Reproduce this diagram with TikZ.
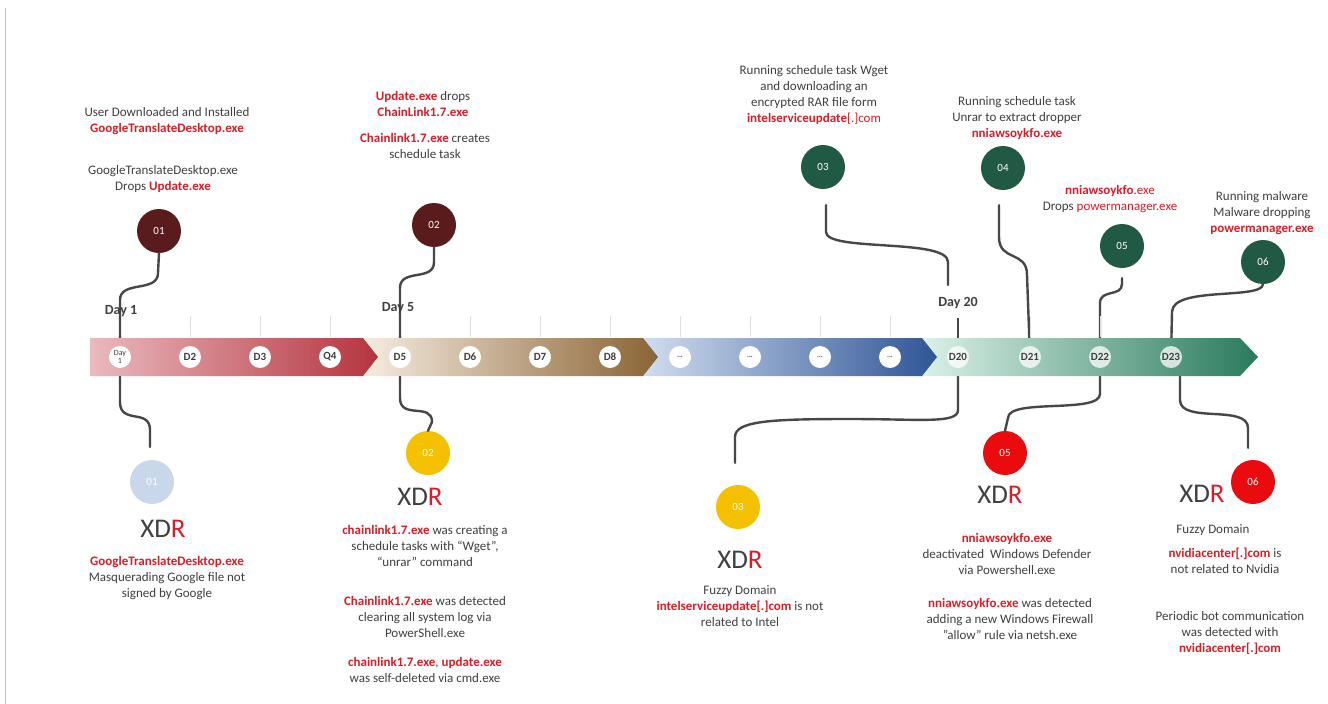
\documentclass[tikz,border=0pt]{standalone}
\usepackage{fontspec}
\setmainfont{Carlito}
\usetikzlibrary{calc}
\definecolor{tgray}{HTML}{404040}
\definecolor{xred}{HTML}{DD1C26}
\definecolor{maroon}{HTML}{5A1B1D}
\definecolor{dgreen}{HTML}{215A44}
\definecolor{lblue}{HTML}{C9D7EA}
\definecolor{yel}{HTML}{F5C000}
\definecolor{bred}{HTML}{EA0B0E}
\definecolor{cgray}{HTML}{474747}
\definecolor{sa}{HTML}{E9BABE}\definecolor{sb}{HTML}{B5343F}
\definecolor{sc}{HTML}{F6ECE1}\definecolor{sd}{HTML}{8A6433}
\definecolor{se}{HTML}{D0DDEE}\definecolor{sf}{HTML}{2F5596}
\definecolor{sg}{HTML}{DAF1E7}\definecolor{sh}{HTML}{2A7A5C}
\newcommand\rd[1]{\textcolor{xred}{\textbf{#1}}}
\newcommand\rn[1]{\textcolor{xred}{#1}}
\begin{document}
\begin{tikzpicture}[x=1pt,y=-1pt,
 txt/.style={font=\fontsize{13}{16.3}\selectfont, text=tgray, align=center, inner sep=0pt},
 ev/.style={circle, minimum size=44pt, inner sep=0pt, text=white, font=\fontsize{11}{11}\selectfont},
 dc/.style={circle, fill=white, minimum size=22pt, inner sep=0pt, text=tgray, font=\fontsize{11}{11}\selectfont\bfseries},
 dcl/.style={dc, fill opacity=0.75, text opacity=1},
 conn/.style={draw=cgray, line width=2.4pt, line cap=round},
 tk/.style={draw=black!12, line width=0.7pt},
 dtk/.style={draw=cgray, line width=1.6pt},
 xdr/.style={font=\fontsize{27}{27}\selectfont, text=tgray, inner sep=0pt},
 daylbl/.style={font=\fontsize{14}{14}\selectfont\bfseries, text=tgray, inner sep=1pt}
]
\useasboundingbox (0,0) rectangle (1328,704);
\fill[white] (0,0) rectangle (1328,704);
\draw[black!25, line width=1pt] (5,8) -- (5,704);

% event circles
\node[ev, fill=maroon] (u1) at (159,231) {01};
\node[ev, fill=maroon] (u2) at (434,225) {02};
\node[ev, fill=dgreen] (u3) at (823,167) {03};
\node[ev, fill=dgreen] (u4) at (1003,168) {04};
\node[ev, fill=dgreen] (u5) at (1122,246) {05};
\node[ev, fill=dgreen] (u6) at (1263,262) {06};
\node[ev, fill=lblue] (l1) at (152,482) {01};
\node[ev, fill=yel] (l2) at (428,453) {02};
\node[ev, fill=yel] (l3) at (738,507) {03};
\node[ev, fill=bred] (l5) at (1005,453) {05};
\node[ev, fill=bred] (l6) at (1253,482) {06};

% day circle positions
\coordinate (p1) at (120,357); \coordinate (p5) at (400,357);
\coordinate (p20) at (958,357); \coordinate (p21) at (1030,357);
\coordinate (p22) at (1100,357); \coordinate (p23) at (1171,357);

% connectors above
\draw[conn] (u1.south) -- (158,273) .. controls (158,293) and (120,280) .. (120,300) -- (p1);
\draw[conn] (u2.south) -- (434,262) .. controls (434,282) and (400,268) .. (400,288) -- (p5);
\coordinate (c3a) at ($(u3.south)+(3,16)$);
\coordinate (c3b) at (948,285);
\draw[conn] (c3a) -- (826,232) .. controls (826,252) and (948,238) .. (948,262) -- (c3b);
\coordinate (c4a) at ($(u4.south)+(-4,15)$);
\draw[conn] (c4a) -- (999,237) .. controls (999,262) and (1027,250) .. (1027,275) -- (p21);
\coordinate (c5a) at ($(u5.south)+(0,10)$);
\draw[conn] (c5a) -- (1122,284) .. controls (1122,297) and (1100,289) .. (1100,303) -- (p22);
\draw[conn] (u6.south) .. controls (1262,300) and (1172,286) .. (1172,312) -- (p23);

% connectors below
\coordinate (e1) at ($(l1.north)+(-2,-13)$);
\draw[conn] (p1) -- (120,402) .. controls (120,425) and (150,408) .. (150,430) -- (e1);
\draw[conn] (p5) -- (400,398) .. controls (400,420) and (432,402) .. (432,422) -- (l2.north);
\coordinate (e3) at ($(l3.north)+(-3,-22)$);
\draw[conn] (p20) -- (958,410) .. controls (958,424) and (920,419) .. (850,419) .. controls (770,419) and (735,421) .. (735,437) -- (e3);
\draw[conn] (p22) -- (1100,394) .. controls (1100,414) and (1008,398) .. (1008,418) -- (l5.north);
\coordinate (e6) at ($(l6.north)+(-5,-12)$);
\draw[conn] ($(p23)+(9,0)$) -- (1180,400) .. controls (1180,424) and (1248,404) .. (1248,428) -- (e6);

% thin ticks
\foreach \x in {190,260,330,470,540,610,680,750,820,890,1030,1100}
  \draw[tk] (\x,316) -- (\x,337);
\draw[dtk] (958,318) -- (p20);

% band
\shade[left color=sg, right color=sh] (922,338) -- (1240,338) -- (1258,357) -- (1240,376) -- (922,376) -- cycle;
\shade[left color=se, right color=sf] (643,338) -- (922,338) -- (937,357) -- (922,376) -- (643,376) -- cycle;
\shade[left color=sc, right color=sd] (363,338) -- (643,338) -- (658,357) -- (643,376) -- (363,376) -- cycle;
\shade[left color=sa, right color=sb] (90,338) -- (363,338) -- (378,357) -- (363,376) -- (90,376) -- cycle;

% day circles
\node[dc, font=\fontsize{8}{8.5}\selectfont, align=center] (d1) at (p1) {Day\\1};
\node[dc] (d2) at (190,357) {D2};
\node[dc] (d3) at (260,357) {D3};
\node[dc] (q4) at (330,357) {Q4};
\node[dc] (d5) at (p5) {D5};
\node[dc] (d6) at (470,357) {D6};
\node[dc] (d7) at (540,357) {D7};
\node[dc] (d8) at (610,357) {D8};
\foreach \x/\n in {680/m1,750/m2,820/m3,890/m4}
  \node[dc, font=\fontsize{7}{7}\selectfont\bfseries] (\n) at (\x,357) {...};
\node[dcl] (d20) at (p20) {D20};
\node[dcl] (d21) at (p21) {D21};
\node[dcl] (d22) at (p22) {D22};
\node[dcl] (d23) at (p23) {D23};

% day labels
\node[daylbl] (lday1) at (121,311) {Day 1};
\node[daylbl] (lday5) at (398,308) {Day 5};
\node[daylbl] (lday20) at (958,303) {Day 20};

% upper texts
\node[txt] (t1a) at (167,121) {User Downloaded and Installed\\\rd{GoogleTranslateDesktop.exe}};
\node[txt] (t1b) at (163,179) {GoogleTranslateDesktop.exe\\Drops \rd{Update.exe}};
\node[txt] (t2a) at (423,104) {\rd{Update.exe} drops\\\rd{ChainLink1.7.exe}};
\node[txt] (t2b) at (425,146) {\rd{Chainlink1.7.exe} creates\\schedule task};
\node[txt] (t3) at (814,95) {Running schedule task Wget\\and downloading an\\encrypted RAR file form\\\rd{intelserviceupdate}\rn{[.]com}};
\node[txt] (t4) at (1017,118) {Running schedule task\\Unrar to extract dropper\\\rd{nniawsoykfo.exe}};
\node[txt] (t5) at (1110,199) {\rd{nniawsoykfo}\rn{.exe}\\Drops \rn{powermanager.exe}};
\node[txt] (t6) at (1262,213) {Running malware\\Malware dropping\\\rd{powermanager.exe}};

% lower texts
\node[xdr] (x1) at (163,529) {XD\textcolor{xred}{R}};
\node[txt] (b1) at (167,578) {\rd{GoogleTranslateDesktop.exe}\\Masquerading Google file not\\signed by Google};
\node[xdr] (x2) at (420,497) {XD\textcolor{xred}{R}};
\node[txt] (b2a) at (425,546) {\rd{chainlink1.7.exe} was creating a\\schedule tasks with “Wget”,\\“unrar” command};
\node[txt] (b2b) at (425,617) {\rd{Chainlink1.7.exe} was detected\\clearing all system log via\\PowerShell.exe};
\node[txt] (b2c) at (425,670) {\rd{chainlink1.7.exe}, \rd{update.exe}\\was self-deleted via cmd.exe};
\node[xdr] (x3) at (740,560) {XD\textcolor{xred}{R}};
\node[txt] (b3) at (740,606) {Fuzzy Domain\\\rd{intelserviceupdate[.]com} is not\\related to Intel};
\node[xdr] (x5) at (1000,495) {XD\textcolor{xred}{R}};
\node[txt] (b5a) at (1007,554) {\rd{nniawsoykfo.exe}\\deactivated\ \ Windows Defender\\via Powershell.exe};
\node[txt] (b5b) at (1010,619) {\rd{nniawsoykfo.exe} was detected\\adding a new Windows Firewall\\"allow" rule via netsh.exe};
\node[xdr] (x6) at (1202,494) {XD\textcolor{xred}{R}};
\node[txt] (b6a) at (1213,530) {Fuzzy Domain};
\node[txt] (b6b) at (1225,561) {\rd{nvidiacenter[.]com} is\\not related to Nvidia};
\node[txt] (b6c) at (1230,633) {Periodic bot communication\\was detected with\\\rd{nvidiacenter[.]com}};
\end{tikzpicture}
\end{document}
